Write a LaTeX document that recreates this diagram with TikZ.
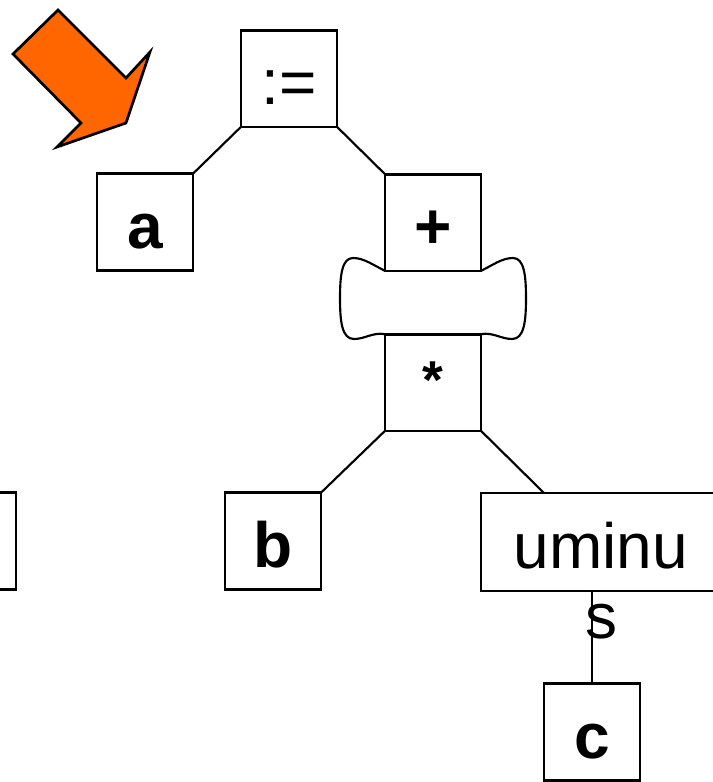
\documentclass[tikz,border=0pt]{standalone}
\usepackage{fontspec}
\setmainfont{Liberation Sans}
\usepackage{xcolor}
\usepackage{tikz}
\definecolor{pointorange}{RGB}{255, 102, 0}
\tikzset{
    treenode/.style={
        rectangle,
        draw=black,
        fill=white,
        line width=2pt,
        inner sep=0pt,
        outer sep=0pt,
        minimum width=72pt,
        minimum height=72.5pt,
        text height=39pt,
        text depth=0pt,
        font=\fontsize{48}{55}\selectfont
    },
    leafnode/.style={
        treenode,
        font=\fontsize{48}{55}\selectfont\bfseries
    },
    branch/.style={
        line width=1.6pt,
        line cap=round
    },
    pointer/.style={
        draw=black,
        fill=pointorange,
        line width=2pt,
        line join=miter
    }
}

\begin{document}
\begin{tikzpicture}[x=0.75pt, y=-0.75pt]
    \useasboundingbox (0,0) rectangle (713,782);
    \clip (0,0) rectangle (713,782);

    % pointer arrow
    \draw[pointer] (58,10) -- (13,54) -- (81,123) -- (57,147) -- (126,123)
        -- (150,52) -- (126,78) -- cycle;

    % tree nodes
    \node[treenode] (assign) at (289,78.5) {:=};
    \node[leafnode] (a) at (145,222) {a};
    \node[leafnode] (plus) at (433,222.5) {+};
    \node[treenode] (times) at (433,382.5) {\raisebox{7.5pt}{\fontsize{40}{44}\selectfont\bfseries *}};
    \node[treenode] (leftbox) at (-32,541) {};
    \node[leafnode] (b) at (273,541) {b};
    \node[treenode, minimum width=180pt, minimum height=73.5pt] (um) at (601,542) {uminu};
    \node[font=\fontsize{48}{55}\selectfont, anchor=base, inner sep=0pt] (umtail) at (601,638) {s};
    \node[leafnode] (c) at (592,732) {c};

    % edges
    \draw[branch] (assign.south west) -- (a.north east);
    \draw[branch] (assign.south east) -- (plus.north west);
    \draw[branch] (times.south west) -- (b.north east);
    \draw[branch] (times.south east) -- (c.west |- um.north);
    \draw[branch] (c.north) -- (c.north |- um.south);

    % bone between + and *
    \draw[branch] (plus.south west) .. controls (373,265) and (364,258) .. (353,258)
        .. controls (342,258) and (340,275) .. (340,298)
        .. controls (340,322) and (342,339) .. (354,339)
        .. controls (365,339) and (373,332) .. (times.north west);
    \draw[branch] (plus.south east) .. controls (493,265) and (502,258) .. (513,258)
        .. controls (524,258) and (526,275) .. (526,298)
        .. controls (526,322) and (524,339) .. (512,339)
        .. controls (501,339) and (493,332) .. (times.north east);
\end{tikzpicture}
\end{document}
